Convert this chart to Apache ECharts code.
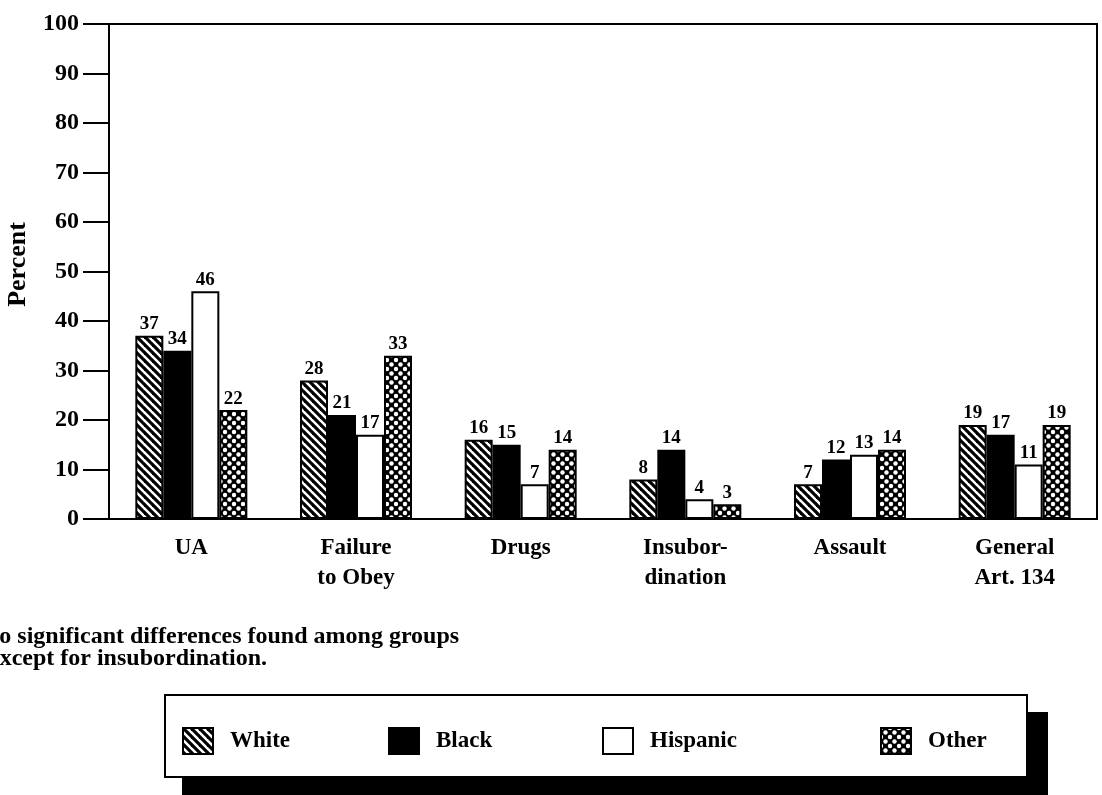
<!DOCTYPE html>
<html>
<head>
<meta charset="utf-8">
<script src="https://cdn.jsdelivr.net/npm/echarts@6/dist/echarts.min.js"></script>
<style>
  html, body { margin: 0; padding: 0; background: #fff; }
  #chart { width: 1102px; height: 795px; }
</style>
</head>
<body>
<div id="chart"></div>
<script>
// Offense categories on the x axis
const categories = ['UA', 'Failure\nto Obey', 'Drugs', 'Insubor-\ndination', 'Assault', 'General\nArt. 134'];

// Group names (one series each)
const groupNames = ['White', 'Black', 'Hispanic', 'Other'];

// Percent of each group charged with each offense
const whiteValues    = [37, 28, 16, 8, 7, 19];
const blackValues    = [34, 21, 15, 14, 12, 17];
const hispanicValues = [46, 17, 7, 4, 13, 11];
const otherValues    = [22, 33, 14, 3, 14, 19];

// Y axis range
const yMin = 0, yMax = 100, yStep = 10;

// Note under the chart, one entry per line
const footnoteLines = ['No significant differences found among groups', 'except for insubordination.'];

const FONT = '"Liberation Serif", "Times New Roman", serif';

// Diagonal hatch: black "\" stripes on white
function stripePattern() {
  const s = 8;
  const c = document.createElement('canvas');
  c.width = s; c.height = s;
  const g = c.getContext('2d');
  g.fillStyle = '#fff';
  g.fillRect(0, 0, s, s);
  g.strokeStyle = '#000';
  g.lineWidth = 3.2;
  g.lineCap = 'square';
  for (const k of [-1, 0, 1]) {
    g.beginPath();
    g.moveTo(k * s, 0);
    g.lineTo(k * s + s, s);
    g.stroke();
  }
  return c;
}

// Lattice: black with white round holes in staggered rows
function latticePattern() {
  const w = 9, h = 9;
  const c = document.createElement('canvas');
  c.width = w; c.height = h;
  const g = c.getContext('2d');
  g.fillStyle = '#000';
  g.fillRect(0, 0, w, h);
  g.fillStyle = '#fff';
  const holes = [[w / 2, h / 2], [0, 0], [w, 0], [0, h], [w, h]];
  for (const [x, y] of holes) {
    g.beginPath();
    g.arc(x, y, 2.2, 0, Math.PI * 2);
    g.fill();
  }
  return c;
}

const fills = {
  White: { image: stripePattern(), repeat: 'repeat' },
  Black: '#000',
  Hispanic: '#fff',
  Other: { image: latticePattern(), repeat: 'repeat' }
};

const seriesValues = {
  White: whiteValues,
  Black: blackValues,
  Hispanic: hispanicValues,
  Other: otherValues
};

const chart = echarts.init(document.getElementById('chart'), null, { renderer: 'canvas' });

const series = groupNames.map(name => ({
  name: name,
  type: 'bar',
  data: seriesValues[name],
  barWidth: 28,
  barGap: '0%',
  itemStyle: {
    color: fills[name],
    borderColor: '#000',
    borderWidth: 2
  },
  label: {
    show: true,
    position: 'top',
    distance: 2,
    color: '#000',
    fontFamily: FONT,
    fontWeight: 'bold',
    fontSize: 19
  },
  emphasis: { disabled: true }
}));

// One legend per group so each entry sits at its own place in the box
const legendLefts = [182, 388, 602, 880];
const legends = groupNames.map((name, i) => ({
  data: [name],
  left: legendLefts[i],
  top: 727,
  padding: 0,
  itemWidth: 30,
  itemHeight: 26,
  icon: 'rect',
  selectedMode: false,
  z: 10,
  itemStyle: { borderColor: '#000', borderWidth: 2 },
  textStyle: {
    color: '#000',
    fontFamily: FONT,
    fontWeight: 'bold',
    fontSize: 23,
    padding: [0, 0, 0, 12]
  }
}));

// Footnote lines, each starting slightly left of the page edge
const footnoteLefts = [-18, -11];
const footnoteGraphics = footnoteLines.map((line, i) => ({
  type: 'text',
  left: footnoteLefts[i],
  top: 625 + i * 22,
  style: {
    text: line,
    fill: '#000',
    font: 'bold 24px ' + FONT
  }
}));

const option = {
  backgroundColor: '#fff',
  animation: false,
  grid: {
    left: 109,
    right: 5,
    top: 24,
    bottom: 276,
    outerBoundsMode: 'none',
    containLabel: false,
    show: true,
    borderColor: '#000',
    borderWidth: 2,
    backgroundColor: 'transparent'
  },
  legend: legends,
  xAxis: {
    type: 'category',
    data: categories,
    boundaryGap: true,
    axisLine: { lineStyle: { color: '#000', width: 2 } },
    axisTick: { alignWithLabel: true, length: 24, lineStyle: { color: '#000', width: 2 } },
    axisLabel: {
      color: '#000',
      fontFamily: FONT,
      fontWeight: 'bold',
      fontSize: 23,
      lineHeight: 30,
      margin: 14,
      interval: 0
    }
  },
  yAxis: {
    type: 'value',
    min: yMin,
    max: yMax,
    interval: yStep,
    name: 'Percent',
    nameLocation: 'middle',
    nameGap: 78,
    nameRotate: 90,
    nameTextStyle: {
      color: '#000',
      fontFamily: FONT,
      fontWeight: 'bold',
      fontSize: 26,
      padding: [0, 0, 0, 14]
    },
    axisLine: { show: true, lineStyle: { color: '#000', width: 2 } },
    axisTick: { show: true, length: 26, lineStyle: { color: '#000', width: 2 } },
    splitLine: { show: false },
    axisLabel: {
      color: '#000',
      fontFamily: FONT,
      fontWeight: 'bold',
      fontSize: 24,
      margin: 30
    }
  },
  graphic: footnoteGraphics.concat([
    // legend frame: drop shadow then white box
    {
      type: 'rect',
      z: 1,
      shape: { x: 182, y: 712, width: 866, height: 90 },
      style: { fill: '#000' }
    },
    {
      type: 'rect',
      z: 2,
      shape: { x: 165, y: 695, width: 862, height: 82 },
      style: { fill: '#fff', stroke: '#000', lineWidth: 2 }
    }
  ]),
  series: series
};

chart.setOption(option);
</script>
</body>
</html>
